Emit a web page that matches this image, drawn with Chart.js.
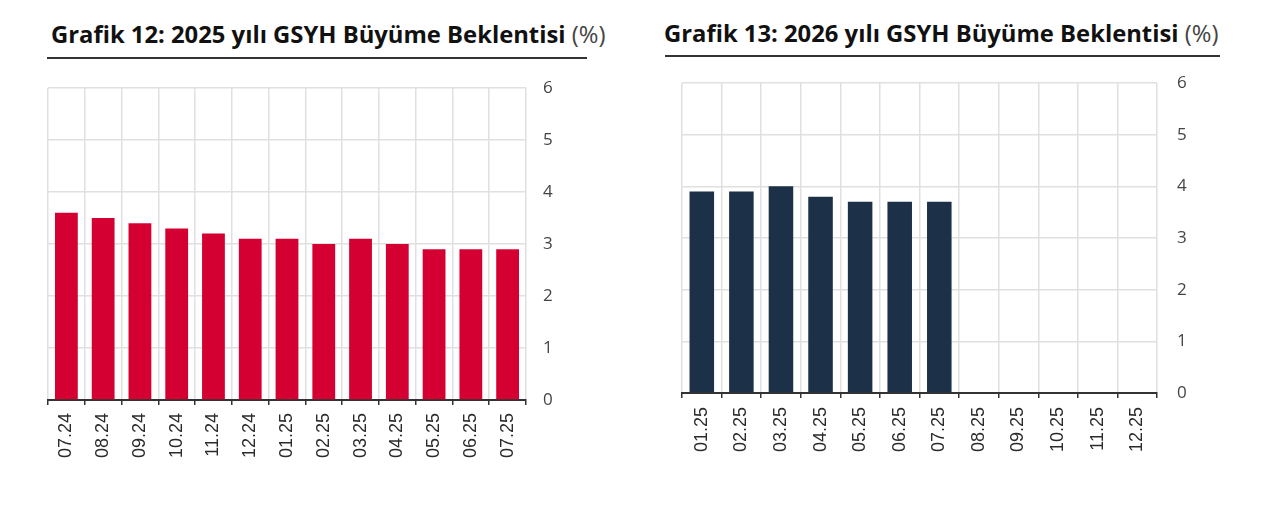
<!DOCTYPE html>
<html lang="tr">
<head>
<meta charset="utf-8">
<script src="https://cdn.jsdelivr.net/npm/chart.js@4.4.1/dist/chart.umd.min.js"></script>
<style>
  body { margin: 0; background: #fff; width: 1280px; height: 524px; overflow: hidden; position: relative; font-family: "Open Sans", sans-serif; }
  .title { position: absolute; font-weight: 700; font-size: 23.8px; color: #111; white-space: nowrap; line-height: 1; }
  .title span { font-weight: 400; color: #444; }
  .rule { position: absolute; height: 0; border-top: 2.5px solid #333; }
  canvas { position: absolute; top: 0; }
</style>
</head>
<body>
<div class="title" style="left:51px; top:23px;">Grafik 12: 2025 yılı GSYH Büyüme Beklentisi <span>(%)</span></div>
<div class="rule" style="left:47px; top:57px; width:540px;"></div>
<div class="title" style="left:664px; top:22px;">Grafik 13: 2026 yılı GSYH Büyüme Beklentisi <span>(%)</span></div>
<div class="rule" style="left:665px; top:55px; width:555px;"></div>

<canvas id="chart2025" width="640" height="524" style="left:0"></canvas>
<canvas id="chart2026" width="640" height="524" style="left:640px"></canvas>

<script>
// Grafik 12 - 2025 yılı beklentisi
const months2025 = ['07.24', '08.24', '09.24', '10.24', '11.24', '12.24', '01.25', '02.25', '03.25', '04.25', '05.25', '06.25', '07.25'];
const growth2025 = [3.6, 3.5, 3.4, 3.3, 3.2, 3.1, 3.1, 3.0, 3.1, 3.0, 2.9, 2.9, 2.9];

// Grafik 13 - 2026 yılı beklentisi (08.25 sonrası henüz yok)
const months2026 = ['01.25', '02.25', '03.25', '04.25', '05.25', '06.25', '07.25', '08.25', '09.25', '10.25', '11.25', '12.25'];
const growth2026 = [3.9, 3.9, 4.0, 3.8, 3.7, 3.7, 3.7, null, null, null, null, null];

const yTicks = [0, 1, 2, 3, 4, 5, 6];

function makeChart(id, labels, values, color, g) {
  const ctx = document.getElementById(id).getContext('2d');
  return new Chart(ctx, {
    type: 'bar',
    data: {
      labels: labels,
      datasets: [{
        data: values,
        backgroundColor: color,
        barPercentage: 0.62,
        categoryPercentage: 1
      }]
    },
    options: {
      responsive: false,
      animation: false,
      layout: { padding: { left: g.left, top: g.top, right: 0, bottom: 0 } },
      plugins: { legend: { display: false }, tooltip: { enabled: false } },
      scales: {
        x: {
          grid: { color: '#e0e0e0', lineWidth: 1.5, tickLength: 5, tickColor: '#333', tickWidth: 1.5 },
          border: { color: '#333', width: 2 },
          ticks: {
            minRotation: 90, maxRotation: 90, autoSkip: false, padding: g.xPad,
            color: '#2b2b2b', font: { family: '"Liberation Sans", Arial, sans-serif', size: 18 }
          },
          afterFit: s => { s.height = g.xH; }
        },
        y: {
          position: 'right',
          min: 0, max: 6,
          afterBuildTicks: s => { s.ticks = yTicks.map(v => ({ value: v })); },
          grid: { color: '#e0e0e0', lineWidth: 1.5, drawTicks: false },
          border: { display: false },
          ticks: {
            padding: g.yPad, color: '#444',
            font: { family: '"Open Sans", sans-serif', size: 17 }
          },
          afterFit: s => { s.width = g.yW; }
        }
      }
    }
  });
}

makeChart('chart2025', months2025, growth2025, '#d50032',
  { left: 48, top: 88, xH: 124, yW: 114, xPad: 8, yPad: 17 });
makeChart('chart2026', months2026, growth2026, '#1c3148',
  { left: 42, top: 83, xH: 131, yW: 123, xPad: 9, yPad: 20 });
</script>
</body>
</html>
